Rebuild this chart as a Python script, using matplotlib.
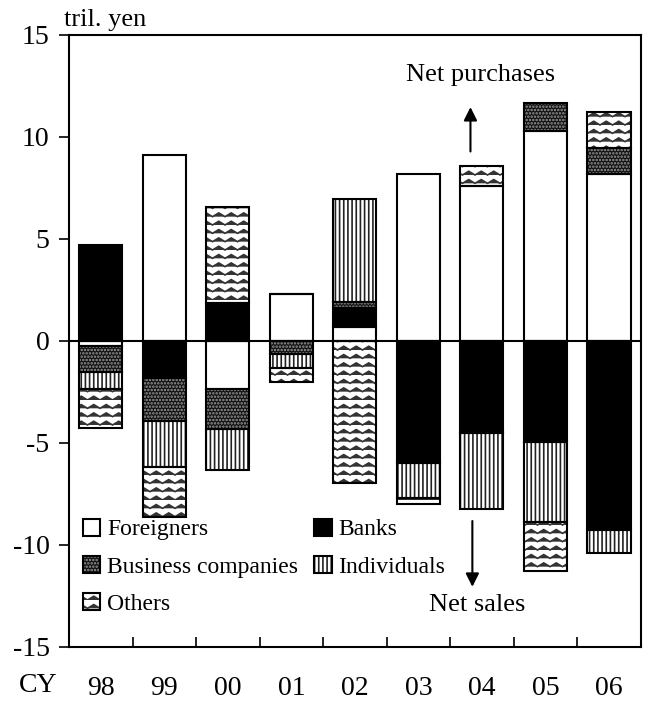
import warnings
import numpy as np
import matplotlib
matplotlib.use("Agg")
import matplotlib.pyplot as plt
import matplotlib.hatch as mhatch
from matplotlib.path import Path
from matplotlib.patches import Patch
from matplotlib.legend_handler import HandlerTuple

warnings.filterwarnings("ignore")

years = ["98", "99", "00", "01", "02", "03", "04", "05", "06"]
foreigners = [-0.25, 9.1, -2.38, 2.32, 0.69, 8.2, 7.6, 10.28, 8.2]
banks = [4.69, -1.8, 1.88, 0.0, 0.9, -5.93, -4.49, -4.95, -9.28]
business = [-1.3, -2.12, -1.95, -0.65, 0.32, -0.08, -0.05, 1.39, 1.28]
individuals = [-0.83, -2.26, -2.0, -0.7, 5.07, -1.72, -3.73, -3.95, -1.11]
others = [-1.9, -2.48, 4.69, -0.66, -6.99, -0.27, 0.98, -2.37, 1.72]


# wavy hatch ('z') for the "Others" series
class ZigzagHatch(mhatch.HatchPatternBase):
    waves = 8

    def __init__(self, hatch, density):
        self.num_lines = int(hatch.count('z') * density)
        self.num_vertices = self.num_lines * (self.waves * 2 + 1)

    def set_vertices_and_codes(self, vertices, codes):
        n = self.waves * 2 + 1
        xs = np.linspace(0, 1, n)
        amp = 0.45 / max(self.num_lines, 1)
        offs = np.where(np.arange(n) % 2 == 0, 0.0, amp)
        rows = np.linspace(0, 1, self.num_lines, endpoint=False)
        for i, y in enumerate(rows):
            seg = slice(i * n, (i + 1) * n)
            vertices[seg, 0] = xs
            vertices[seg, 1] = y + offs
            codes[seg] = Path.LINETO
            codes[i * n] = Path.MOVETO


mhatch._hatch_types.append(ZigzagHatch)

plt.rcParams['font.family'] = ['Liberation Serif', 'DejaVu Serif']
plt.rcParams['hatch.linewidth'] = 1.2

series = [
    ("Foreigners", foreigners, "white", None, "black"),
    ("Banks", banks, "black", None, "black"),
    ("Business companies", business, "#111111", ".....", "#9a9a9a"),
    ("Individuals", individuals, "white", "||||", "#222222"),
    ("Others", others, "white", "zz", "#333333"),
]

fig = plt.figure(figsize=(6.46, 7.04), dpi=100)
ax = fig.add_axes([0.1068, 0.0814, 0.885, 0.8689])

x = np.arange(len(years))
width = 0.68
pos_bottom = np.zeros(len(years))
neg_bottom = np.zeros(len(years))
handles = {}
for name, vals, fc, hatch, hc in series:
    vals = np.array(vals)
    bottom = np.where(vals >= 0, pos_bottom, neg_bottom)
    ax.bar(x, vals, width, bottom=bottom, color=fc, hatch=hatch,
           edgecolor=hc, linewidth=0, zorder=2)
    ax.bar(x, vals, width, bottom=bottom, fill=False,
           edgecolor="black", linewidth=1.5, zorder=3)
    pos_bottom += np.where(vals >= 0, vals, 0)
    neg_bottom += np.where(vals < 0, vals, 0)
    handles[name] = (Patch(facecolor=fc, hatch=hatch, edgecolor=hc, linewidth=0),
                     Patch(fill=False, edgecolor="black", linewidth=1.5))

ax.axhline(0, color="black", linewidth=1.5, zorder=4)

ax.set_xlim(-0.5, len(years) - 0.5)
ax.set_ylim(-15, 15)
ax.set_yticks(range(-15, 16, 5))
ax.set_yticklabels(["-15", "-10", "-5", "0", "5", "10", "15"])
ax.tick_params(axis="y", direction="out", length=7, width=1.2, labelsize=20, pad=7)
ax.set_xticks(x)
ax.set_xticklabels(years)
ax.tick_params(axis="x", which="major", length=0, labelsize=20, pad=21)
ax.set_xticks(np.arange(0.5, len(years) - 0.5, 1), minor=True)
ax.tick_params(axis="x", which="minor", direction="in", length=7, width=1.2)
for s in ax.spines.values():
    s.set_linewidth(1.5)

fig.text(0.059, 0.026, "CY", fontsize=20, ha="center", va="center")
fig.text(0.099, 0.972, "tril. yen", fontsize=19, ha="left", va="center")

ax.annotate("", xy=(5.82, 11.6), xytext=(5.82, 9.15),
            arrowprops=dict(arrowstyle="-|>", color="black", lw=1.5, mutation_scale=20))
ax.text(5.98, 13.05, "Net purchases", fontsize=19, ha="center", va="center")
ax.annotate("", xy=(5.85, -12.2), xytext=(5.85, -8.7),
            arrowprops=dict(arrowstyle="-|>", color="black", lw=1.5, mutation_scale=20))
ax.text(5.93, -12.95, "Net sales", fontsize=19, ha="center", va="center")

order = ["Foreigners", "Business companies", "Others", "Banks", "Individuals"]
ax.legend([handles[n] for n in order], order, ncol=2, frameon=False,
          handler_map={tuple: HandlerTuple(ndivide=1, pad=0)},
          loc="lower left", bbox_to_anchor=(-0.005, 0.025), fontsize=17,
          handlelength=0.75, handleheight=0.75, handletextpad=0.3,
          columnspacing=0.65, labelspacing=0.65, borderaxespad=0.3)

fig.savefig("out.png", dpi=100)
